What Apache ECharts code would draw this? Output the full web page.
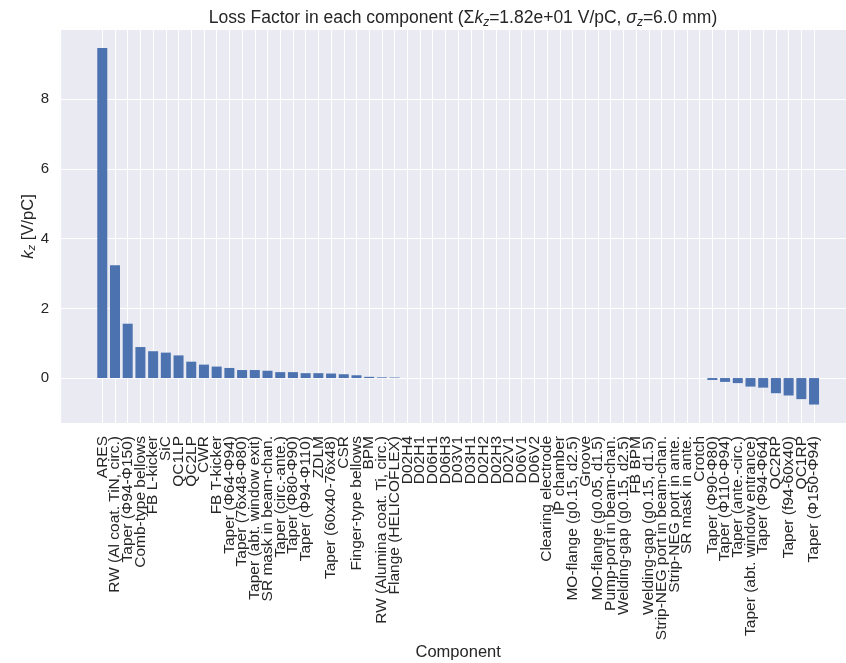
<!DOCTYPE html>
<html>
<head>
<meta charset="utf-8">
<script src="https://cdn.jsdelivr.net/npm/echarts@6/dist/echarts.min.js"></script>
<style>html,body{margin:0;padding:0;background:#fff}#c{width:846px;height:663px}</style>
</head>
<body>
<div id="c"></div>
<script>
const components = [
  "ARES", "RW (Al coat. TiN, circ.)", "Taper (Φ94-Φ150)", "Comb-type bellows", "FB L-kicker",
  "SiC", "QC1LP", "QC2LP", "CWR", "FB T-kicker",
  "Taper (Φ64-Φ94)", "Taper (76x48-Φ80)", "Taper (abt. window exit)", "SR mask in beam-chan.", "Taper (circ.-ante.)",
  "Taper (Φ80-Φ90)", "Taper (Φ94-Φ110)", "ZDLM", "Taper (60x40-76x48)", "CSR",
  "Finger-type bellows", "BPM", "RW (Alumina coat. Ti, circ.)", "Flange (HELICOFLEX)", "D02H4",
  "D02H1", "D06H1", "D06H3", "D03V1", "D03H1",
  "D02H2", "D02H3", "D02V1", "D06V1", "D06V2",
  "Clearing electrode", "IP chamber", "MO-flange (g0.15, d2.5)", "Groove", "MO-flange (g0.05, d1.5)",
  "Pump-port in beam-chan.", "Welding-gap (g0.15, d2.5)", "FB BPM", "Welding-gap (g0.15, d1.5)", "Strip-NEG port in beam-chan.",
  "Strip-NEG port in ante.", "SR mask in ante.", "Crotch", "Taper (Φ90-Φ80)", "Taper (Φ110-Φ94)",
  "Taper (ante.-circ.)", "Taper (abt. window entrance)", "Taper (Φ94-Φ64)", "QC2RP", "Taper (f94-60x40)",
  "QC1RP", "Taper (Φ150-Φ94)"
];
const kz = [
  9.47, 3.24, 1.56, 0.89, 0.77,
  0.73, 0.65, 0.47, 0.385, 0.33,
  0.29, 0.23, 0.23, 0.21, 0.17,
  0.17, 0.14, 0.14, 0.13, 0.11,
  0.08, 0.035, 0.02, 0.015, 0,
  0, 0, 0, 0, 0,
  0, 0, 0, 0, 0,
  0, 0, 0, 0, 0,
  0, 0, 0, 0, 0,
  0, 0, 0, -0.055, -0.11,
  -0.145, -0.245, -0.275, -0.435, -0.5,
  -0.605, -0.76
];
const yTicks = [0, 2, 4, 6, 8];
const titleParts = ["Loss Factor in each component (Σ", "k", "z", "=1.82e+01 V/pC, ", "σ", "z", "=6.0 mm)"];

const FONT = "Liberation Sans";
const TXT = "#262626";

// plot box geometry (matplotlib-like 5% x margins)
const PLOT_LEFT = 61.1, PLOT_TOP = 30, PLOT_H = 393;
const UNIT = 12.71;             // px per category
const XMIN0 = -3.24;            // data limit at the plot's left edge
const N = components.length;
const LEFT2 = PLOT_LEFT + (-1 - XMIN0) * UNIT;  // pixel of position -1
const W2 = (N + 1) * UNIT;                      // positions -1 .. N
const YMIN = -1.29, YMAX = 9.99;

const chart = echarts.init(document.getElementById('c'), null, {renderer: 'canvas'});
const sub = {fontFamily: FONT, fontSize: 12, color: TXT, fontWeight: 'normal', fontStyle: 'italic', lineHeight: 15, verticalAlign: 'bottom'};
chart.setOption({
  backgroundColor: '#ffffff',
  animation: false,
  title: {
    text: '{t|' + titleParts[0] + '}{i|' + titleParts[1] + '}{s|' + titleParts[2] + '}{t|' + titleParts[3] + '}{i|' + titleParts[4] + '}{s|' + titleParts[5] + '}{t|' + titleParts[6] + '}',
    left: 458, top: 3, textAlign: 'center',
    textStyle: {fontWeight: 'normal', rich: {
      t: {fontFamily: FONT, fontSize: 17.5, color: TXT, fontWeight: 'normal', lineHeight: 21},
      i: {fontFamily: FONT, fontSize: 17.5, color: TXT, fontWeight: 'normal', fontStyle: 'italic', lineHeight: 21},
      s: sub
    }}
  },
  grid: [
    {left: PLOT_LEFT, top: PLOT_TOP, width: 846 - PLOT_LEFT, height: PLOT_H, show: true,
     backgroundColor: '#EAEAF2', borderWidth: 0, outerBoundsMode: 'none', containLabel: false},
    {left: LEFT2, top: PLOT_TOP, width: W2, height: PLOT_H, show: false,
     outerBoundsMode: 'none', containLabel: false}
  ],
  xAxis: [
    {gridIndex: 0, type: 'value', min: 0, max: 1, show: false, splitLine: {show: false}},
    {
      gridIndex: 1, type: 'value', min: -1, max: N, interval: 1,
      name: 'Component', nameLocation: 'middle', nameGap: 221, nameMoveOverlap: false,
      nameTextStyle: {fontFamily: FONT, fontSize: 16.5, color: TXT},
      axisLine: {show: false},
      axisTick: {show: false},
      axisLabel: {rotate: 90, margin: 13, fontFamily: FONT, fontSize: 15.5, color: TXT,
        hideOverlap: false,
        formatter: v => (Number.isInteger(v) && components[v]) ? components[v] : ''},
      splitLine: {show: true, showMinLine: false, showMaxLine: false, lineStyle: {color: '#ffffff', width: 1}}
    }
  ],
  yAxis: [
    {
      gridIndex: 0, type: 'value', min: YMIN, max: YMAX,
      name: '{i|k}{s|z}{t| [V/pC]}', nameLocation: 'middle', nameGap: 23, nameRotate: 90, nameMoveOverlap: false,
      nameTextStyle: {rich: {
        t: {fontFamily: FONT, fontSize: 16.5, color: TXT, lineHeight: 20},
        i: {fontFamily: FONT, fontSize: 16.5, color: TXT, fontStyle: 'italic', lineHeight: 20},
        s: {fontFamily: FONT, fontSize: 11.5, color: TXT, fontStyle: 'italic', lineHeight: 14, verticalAlign: 'bottom'}
      }},
      axisLine: {show: false},
      axisTick: {show: false, customValues: yTicks},
      axisLabel: {customValues: yTicks, margin: 12, fontFamily: FONT, fontSize: 15, color: TXT},
      splitLine: {show: true, lineStyle: {color: '#ffffff', width: 1}}
    },
    {gridIndex: 1, type: 'value', min: YMIN, max: YMAX, show: false, splitLine: {show: false}}
  ],
  series: [{
    type: 'bar',
    xAxisIndex: 1, yAxisIndex: 1,
    data: kz.map((v, i) => [i, v]),
    barWidth: 10,
    itemStyle: {color: '#4C72B0'},
    silent: true
  }]
});
</script>
</body>
</html>
